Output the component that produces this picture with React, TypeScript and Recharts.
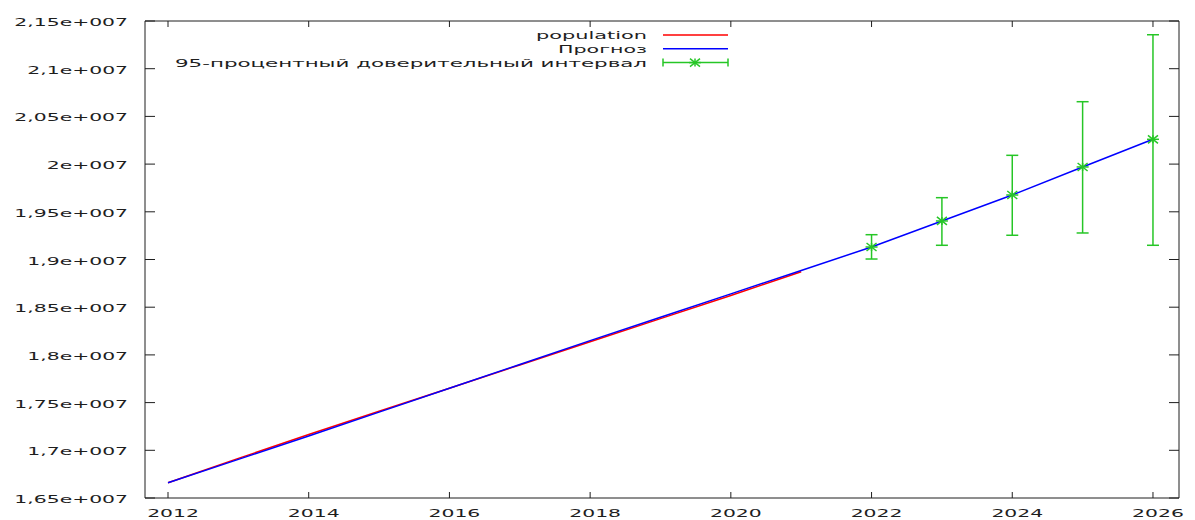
import { ComposedChart, Line, Scatter, ErrorBar, XAxis, YAxis, Legend } from "recharts";

const years = [2012, 2013, 2014, 2015, 2016, 2017, 2018, 2019, 2020, 2021, 2022, 2023, 2024, 2025, 2026];
const population = [
  16660000, 16915000, 17165000, 17410000, 17650000, 17895000, 18138000, 18380000, 18622000, 18872000,
];
const forecast = [
  16660000, 16905000, 17150000, 17400000, 17650000, 17900000, 18150000, 18395000, 18640000, 18885000,
  19131000, 19404000, 19676000, 19970000, 20260000,
];
const ciYears = [2022, 2023, 2024, 2025, 2026];
const ciLow = [19005000, 19149000, 19254000, 19278000, 19149000];
const ciHigh = [19260000, 19648000, 20092000, 20654000, 21356000];

const xTicks = [2012, 2014, 2016, 2018, 2020, 2022, 2024, 2026];
const yTicks = [
  16500000, 17000000, 17500000, 18000000, 18500000, 19000000, 19500000, 20000000, 20500000, 21000000, 21500000,
];
const yTickLabels = [
  "1,65e+007", "1,7e+007", "1,75e+007", "1,8e+007", "1,85e+007", "1,9e+007",
  "1,95e+007", "2e+007", "2,05e+007", "2,1e+007", "2,15e+007",
];
const seriesNames = ["population", "Прогноз", "95-процентный доверительный интервал"];
const legendTextWidths = [111, 89, 472];

const rows = years.map((year, i) => ({
  year,
  population: i < population.length ? population[i] : null,
  forecast: forecast[i],
}));

const ciRows = ciYears.map((year, i) => {
  const mid = forecast[years.indexOf(year)];
  return { year, forecast: mid, err: [mid - ciLow[i], ciHigh[i] - mid] };
});

const INK = "#1e1e1e";
const RED = "#ff0000";
const BLUE = "#0000ff";
const GREEN = "#26c626";
const FONT = "'DejaVu Sans', Verdana, sans-serif";
const SX = 1.85; // the source image is stretched horizontally

function WideText({ x, y, anchor, children }: { x: number; y: number; anchor: string; children: any }) {
  return (
    <text
      transform={`translate(${x},${y}) scale(${SX},1)`}
      textAnchor={anchor}
      fontFamily={FONT}
      fontSize={11}
      fill={INK}
    >
      {children}
    </text>
  );
}

const LeftTick = (props: any) => {
  const { x, y, payload } = props;
  const label = yTickLabels[yTicks.indexOf(payload.value)];
  return (
    <g>
      <line x1={x} y1={y} x2={x + 10} y2={y} stroke={INK} />
      <WideText x={x - 17} y={y + 5} anchor="end">{label}</WideText>
    </g>
  );
};

const RightTick = (props: any) => {
  const { x, y } = props;
  return <line x1={x} y1={y} x2={x - 10} y2={y} stroke={INK} />;
};

const BottomTick = (props: any) => {
  const { x, y, payload } = props;
  return (
    <g>
      <line x1={x} y1={y} x2={x} y2={y - 6} stroke={INK} />
      <WideText x={x + 5} y={y + 19} anchor="middle">{payload.value}</WideText>
    </g>
  );
};

const TopTick = (props: any) => {
  const { x, y } = props;
  return <line x1={x} y1={y} x2={x} y2={y + 6} stroke={INK} />;
};

const Star = (props: any) => {
  const { cx, cy } = props;
  return (
    <g stroke={GREEN} strokeWidth={1.5}>
      <line x1={cx - 6} y1={cy} x2={cx + 6} y2={cy} />
      <line x1={cx} y1={cy - 4} x2={cx} y2={cy + 4} />
      <line x1={cx - 5} y1={cy - 4} x2={cx + 5} y2={cy + 4} />
      <line x1={cx - 5} y1={cy + 4} x2={cx + 5} y2={cy - 4} />
    </g>
  );
};

const renderLegend = (props: any) => {
  const items = [...(props.payload || [])].sort(
    (a: any, b: any) => seriesNames.indexOf(a.value) - seriesNames.indexOf(b.value)
  );
  return (
    <svg width={760} height={75} style={{ display: "block" }}>
      {items.map((item: any, i: number) => {
        const cy = 35 + i * 13.8;
        const idx = seriesNames.indexOf(item.value);
        const isCi = idx === 2;
        return (
          <g key={item.value}>
            <text
              x={647}
              y={cy + 4}
              textAnchor="end"
              textLength={legendTextWidths[idx]}
              lengthAdjust="spacingAndGlyphs"
              fontFamily={FONT}
              fontSize={11}
              fill={INK}
            >
              {item.value}
            </text>
            {isCi ? (
              <g stroke={GREEN} strokeWidth={1.5}>
                <line x1={663} y1={cy} x2={728} y2={cy} />
                <line x1={663} y1={cy - 4} x2={663} y2={cy + 4} />
                <line x1={728} y1={cy - 4} x2={728} y2={cy + 4} />
                <Star cx={695} cy={cy} />
              </g>
            ) : (
              <line x1={663} y1={cy} x2={728} y2={cy} stroke={item.color} strokeWidth={1.5} />
            )}
          </g>
        );
      })}
    </svg>
  );
};

export default function App() {
  return (
    <div style={{ position: "absolute", left: 0, top: 0, width: 1195, height: 520, background: "#fff" }}>
      <ComposedChart width={1195} height={520} data={rows} margin={{ top: 20, right: 15, bottom: 0, left: 0 }}>
        <XAxis
          dataKey="year"
          type="number"
          domain={[2011.673, 2026.37]}
          allowDataOverflow
          ticks={xTicks}
          interval={0}
          tick={BottomTick}
          tickLine={false}
          tickSize={0}
          tickMargin={0}
          axisLine={{ stroke: INK }}
          height={22}
        />
        <XAxis
          xAxisId="top"
          orientation="top"
          dataKey="year"
          type="number"
          domain={[2011.673, 2026.37]}
          allowDataOverflow
          ticks={xTicks}
          interval={0}
          tick={TopTick}
          tickLine={false}
          tickSize={0}
          tickMargin={0}
          axisLine={{ stroke: INK }}
          height={1}
        />
        <YAxis
          type="number"
          domain={[16500000, 21500000]}
          allowDataOverflow
          ticks={yTicks}
          interval={0}
          tick={LeftTick}
          tickLine={false}
          tickSize={0}
          tickMargin={0}
          axisLine={{ stroke: INK }}
          width={145}
        />
        <YAxis
          yAxisId="right"
          orientation="right"
          type="number"
          domain={[16500000, 21500000]}
          allowDataOverflow
          ticks={yTicks}
          interval={0}
          tick={RightTick}
          tickLine={false}
          tickSize={0}
          tickMargin={0}
          axisLine={{ stroke: INK }}
          width={1}
        />
        <Legend
          layout="vertical"
          align="center"
          verticalAlign="middle"
          wrapperStyle={{ left: 0, top: 0, width: 760, height: 75 }}
          content={renderLegend}
        />
        <Line
          type="linear"
          dataKey="population"
          name={seriesNames[0]}
          stroke={RED}
          strokeWidth={1.5}
          dot={false}
          isAnimationActive={false}
        />
        <Line
          type="linear"
          dataKey="forecast"
          name={seriesNames[1]}
          stroke={BLUE}
          strokeWidth={1.5}
          dot={false}
          isAnimationActive={false}
        />
        <Scatter
          data={ciRows}
          dataKey="forecast"
          name={seriesNames[2]}
          fill={GREEN}
          shape={Star}
          isAnimationActive={false}
        >
          <ErrorBar dataKey="err" direction="y" width={6} stroke={GREEN} strokeWidth={1.5} isAnimationActive={false} />
        </Scatter>
      </ComposedChart>
    </div>
  );
}
